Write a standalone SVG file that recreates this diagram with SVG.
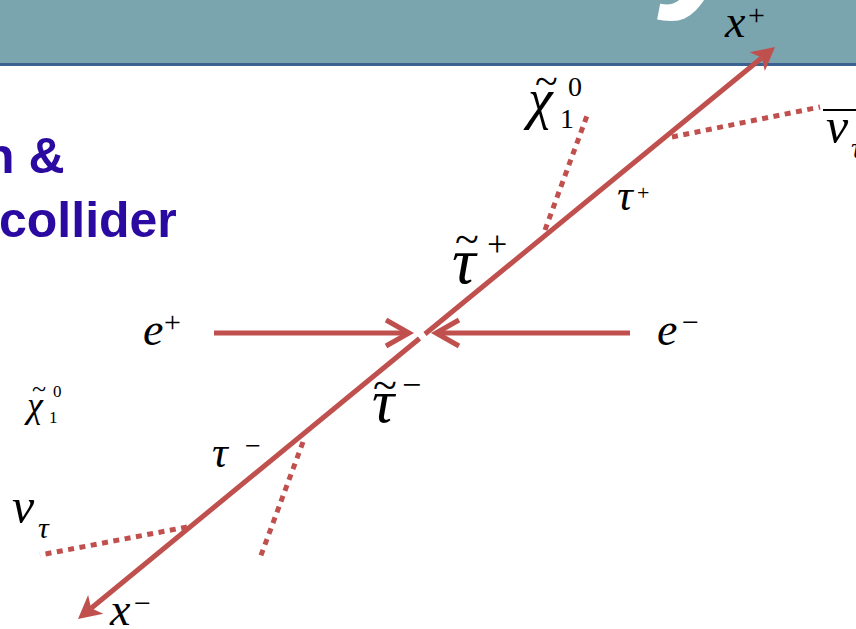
<svg xmlns="http://www.w3.org/2000/svg" width="856" height="629" viewBox="0 0 856 629">
  <defs>
    <style>
      .m { font-family: "Liberation Serif", "Times New Roman", serif; font-style: italic; fill: #000; }
      .u { font-family: "Liberation Serif", "Times New Roman", serif; fill: #000; }
      .title { font-family: "Liberation Sans", Arial, sans-serif; font-weight: bold; fill: #2A0AA0; font-size: 50px; }
      .solid { stroke: #C0504D; stroke-width: 5; fill: none; }
      .dot { stroke: #C0504D; stroke-width: 5; fill: none; stroke-dasharray: 6 5.5; }
    </style>
    <marker id="stealth" markerUnits="userSpaceOnUse" viewBox="-8 -13 27 26" markerWidth="27" markerHeight="26" refX="0" refY="0" orient="auto">
      <path d="M0,0 L-6,-12 L17,0 L-6,12 Z" fill="#C0504D"/>
    </marker>
  </defs>

  <g id="header">
    <rect x="0" y="0" width="856" height="63" fill="#7BA5AE"/>
    <rect x="0" y="63" width="856" height="3" fill="#3B6190"/>
    <text x="664" y="-13" font-family="Liberation Sans, Arial, sans-serif" font-weight="bold" font-style="italic" font-size="165" fill="#FFFFFF">y</text>
  </g>

  <g id="title">
    <text class="title" x="-16" y="173">n &amp;</text>
    <text class="title" x="-1" y="237">collider</text>
  </g>

  <g id="connectors">
    <line class="solid" x1="419.5" y1="338.5" x2="91.1" y2="608.2" marker-end="url(#stealth)"/>
    <line class="solid" x1="425" y1="334" x2="761.9" y2="57.8" marker-end="url(#stealth)"/>
    <line class="solid" x1="214" y1="333" x2="408" y2="333"/>
    <polyline class="solid" points="386,320 409,333 386,346"/>
    <line class="solid" x1="630" y1="333" x2="437" y2="333"/>
    <polyline class="solid" points="459,320 436,333 459,346"/>
    <line class="dot" x1="545" y1="230" x2="588" y2="113"/>
    <line class="dot" x1="672" y1="137" x2="820" y2="107"/>
    <line class="dot" x1="303" y1="442" x2="260" y2="558"/>
    <line class="dot" x1="187" y1="527" x2="40" y2="555"/>
  </g>

  <g id="label-xplus">
    <text class="m" x="725" y="37" font-size="46">x</text>
    <text class="u" x="748" y="25" font-size="30">+</text>
  </g>
  <g id="label-eplus">
    <text class="m" x="143" y="345" font-size="46">e</text>
    <text class="u" x="164" y="332" font-size="30">+</text>
  </g>
  <g id="label-eminus">
    <text class="m" x="657" y="345" font-size="46">e</text>
    <text class="u" x="682" y="332" font-size="30">−</text>
  </g>
  <g id="label-tauplus">
    <text class="m" x="617" y="210" font-size="44">τ</text>
    <text class="u" x="637" y="200" font-size="22">+</text>
  </g>
  <g id="label-stauplus">
    <text class="u" x="455" y="254" font-size="44">~</text>
    <text class="m" x="452" y="283" font-size="66">τ</text>
    <text class="u" x="487" y="256" font-size="36">+</text>
  </g>
  <g id="label-stauminus">
    <text class="u" x="373" y="400" font-size="44">~</text>
    <text class="m" x="372" y="422" font-size="62">τ</text>
    <text class="u" x="402" y="396" font-size="34">−</text>
  </g>
  <g id="label-tauminus">
    <text class="m" x="212" y="467" font-size="44">τ</text>
    <text class="u" x="245" y="455" font-size="28">−</text>
  </g>
  <g id="label-xminus">
    <text class="m" x="110" y="625" font-size="46">x</text>
    <text class="u" x="134" y="613" font-size="30">−</text>
  </g>
  <g id="label-nutau">
    <text class="m" x="12" y="523" font-size="50">ν</text>
    <text class="m" x="38" y="538" font-size="30">τ</text>
  </g>
  <g id="label-chi-top">
    <text class="u" x="535" y="95" font-size="42">~</text>
    <text class="m" x="528" y="118" font-size="56">χ</text>
    <text class="u" x="560" y="128" font-size="28">1</text>
    <text class="u" x="568" y="96" font-size="28">0</text>
  </g>
  <g id="label-chi-left">
    <text class="u" x="32" y="397" font-size="26">~</text>
    <text class="m" x="27" y="417" font-size="36">χ</text>
    <text class="u" x="49" y="423" font-size="17">1</text>
    <text class="u" x="53" y="397" font-size="17">0</text>
  </g>
  <g id="label-nubar">
    <line x1="823" y1="110" x2="856" y2="110" stroke="#000" stroke-width="2"/>
    <text class="m" x="826" y="143" font-size="50">ν</text>
    <text class="m" x="851" y="158" font-size="30">τ</text>
  </g>
</svg>
